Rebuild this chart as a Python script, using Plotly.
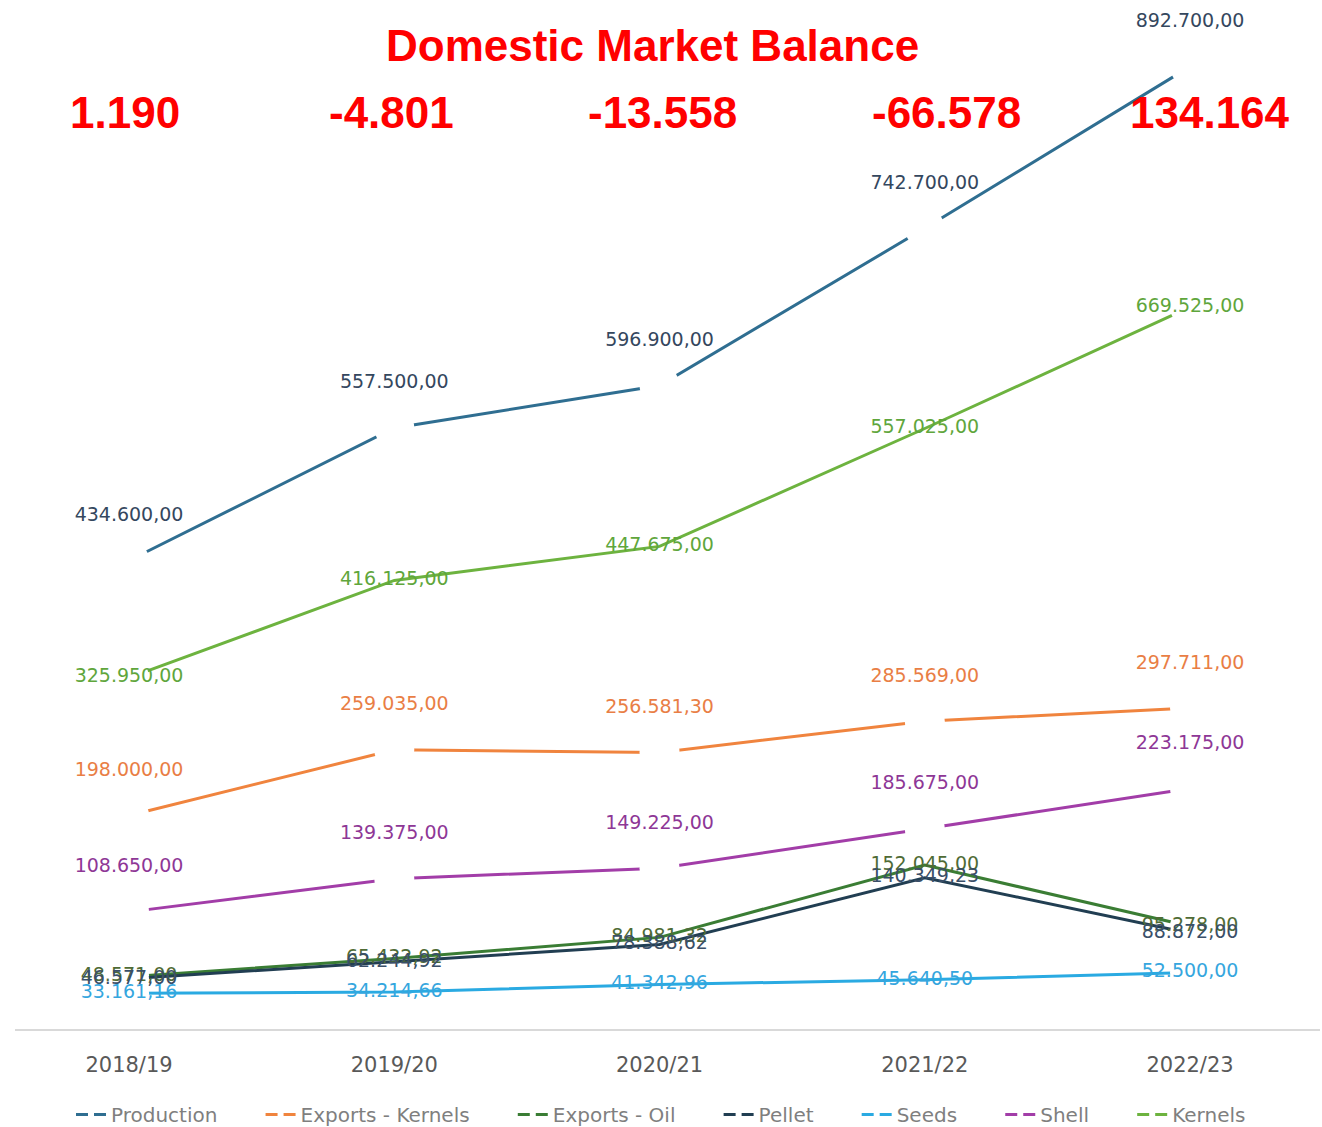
import plotly.graph_objects as go

categories = ["2018/19", "2019/20", "2020/21", "2021/22", "2022/23"]

production = [434600, 557500, 596900, 742700, 892700]
exports_kernels = [198000, 259035, 256581.30, 285569, 297711]
exports_oil = [48571, 65432.92, 84981.32, 152045, 95278]
pellet = [46577, 62244.92, 78388.62, 140349.23, 88872]
seeds = [33161.16, 34214.66, 41342.96, 45640.50, 52500]
shell = [108650, 139375, 149225, 185675, 223175]
kernels = [325950, 416125, 447675, 557025, 669525]

balance_labels = ["1.190", "-4.801", "-13.558", "-66.578", "134.164"]
balance_xshift = [-4, -3, 3, 22, 20]

W, H = 1322, 1127
ML, MR, MT, MB = 15, 2, 0, 98
PH = H - MT - MB


def fmt(v):
    s = f"{v:,.2f}"
    return s.replace(",", "X").replace(".", ",").replace("X", ".")


# name, values, line colour, label colour, gaps at every point, label above
series = [
    ("Production", production, "#2F6E91", "#34475E", True, True),
    ("Exports - Kernels", exports_kernels, "#F0843E", "#E97E45", True, True),
    ("Exports - Oil", exports_oil, "#3A7D34", "#4F6B35", False, False),
    ("Pellet", pellet, "#213E52", "#3A4F68", False, False),
    ("Seeds", seeds, "#2AAAE2", "#35A6DE", False, False),
    ("Shell", shell, "#A23DA8", "#8E3796", True, True),
    ("Kernels", kernels, "#6DB33F", "#5FA63C", False, False),
]

fig = go.Figure()

# lines (white markers make the small gaps around the points)
for name, vals, col, tcol, gapped, above in series:
    n = len(vals)
    sizes = [40] * n if gapped else [40] + [0] * (n - 2) + [40]
    fig.add_trace(go.Scatter(
        x=categories, y=vals, mode="lines+markers",
        line=dict(color=col, width=3),
        marker=dict(color="white", size=sizes, opacity=1, line=dict(width=0)),
        showlegend=False, hoverinfo="skip", cliponaxis=False,
    ))

# data labels
for name, vals, col, tcol, gapped, above in series:
    fig.add_trace(go.Scatter(
        x=categories, y=vals, mode="markers+text",
        marker=dict(color="rgba(0,0,0,0)", size=54 if above else 1),
        text=[fmt(v) for v in vals],
        textposition="top center" if above else "middle center",
        textfont=dict(family="DejaVu Sans", size=19, color=tcol),
        showlegend=False, hoverinfo="skip", cliponaxis=False,
    ))

# legend entries
for i, (name, vals, col, tcol, gapped, above) in enumerate(series):
    pad = "\u00a0" * 6 if i < len(series) - 1 else ""
    fig.add_trace(go.Scatter(
        x=[None], y=[None], mode="lines", name=name + pad,
        line=dict(color=col, width=3, dash="12px,6px"),
        showlegend=True, hoverinfo="skip",
    ))

for i, lab in enumerate(balance_labels):
    fig.add_annotation(
        x=categories[i], xref="x", y=1 - 112 / PH, yref="paper",
        text=f"<b>{lab}</b>", showarrow=False, xshift=balance_xshift[i],
        yanchor="middle",
        font=dict(family="Liberation Sans", size=44, color="#FF0000"),
    )

fig.add_annotation(
    x=(652 - ML) / (W - ML - MR), xref="paper", y=1 - 45 / PH, yref="paper",
    text="<b>Domestic Market Balance</b>", showarrow=False, yanchor="middle",
    font=dict(family="Liberation Sans", size=44, color="#FF0000"),
)

fig.update_layout(
    width=W, height=H,
    margin=dict(l=ML, r=MR, t=MT, b=MB, autoexpand=False),
    paper_bgcolor="white", plot_bgcolor="white",
    xaxis=dict(
        type="category", range=[-0.43, 4.49], automargin=False,
        showgrid=False, zeroline=False,
        showline=True, linecolor="#D9D9D9", linewidth=2,
        ticks="outside", ticklen=16, tickcolor="rgba(0,0,0,0)",
        tickfont=dict(family="DejaVu Sans", size=21, color="#595959"),
    ),
    yaxis=dict(
        range=[0, 954500], visible=False, showgrid=False, zeroline=False,
        automargin=False,
    ),
    legend=dict(
        orientation="h", x=0.5, xanchor="center", xref="container",
        y=1 - 1095 / H, yanchor="top", yref="container",
        font=dict(family="DejaVu Sans", size=20, color="#7F7F7F"),
        itemwidth=30, traceorder="normal",
    ),
)

fig.write_html(
    "out.html",
    config={"displayModeBar": False},
    post_script="document.body.style.margin='0px';document.body.style.overflow='hidden';",
)
